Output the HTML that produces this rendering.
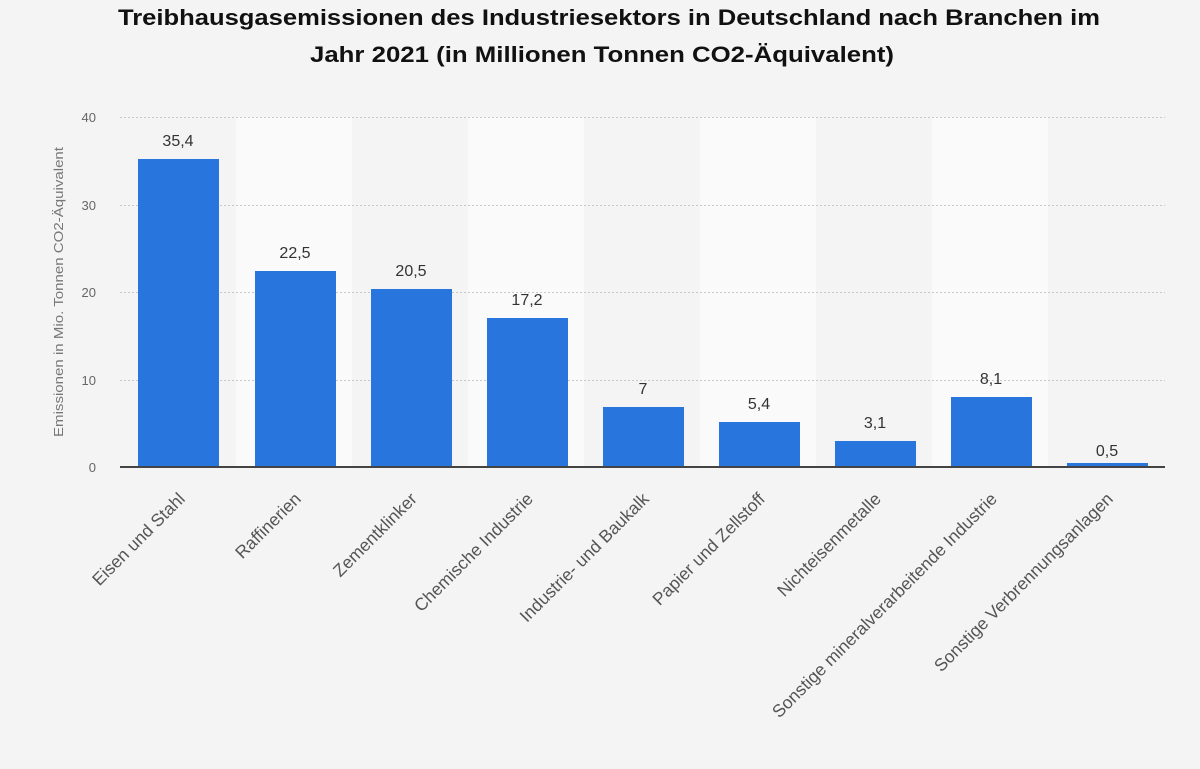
<!DOCTYPE html>
<html><head><meta charset="utf-8"><style>
body{margin:0;background:#f4f4f4;}
svg{display:block;font-family:"Liberation Sans",Arial,sans-serif;}
</style></head><body>
<svg width="1200" height="769" viewBox="0 0 1200 769">
<rect width="1200" height="769" fill="#f4f4f4"/>
<text x="118" y="25" font-size="22" font-weight="bold" fill="#111" textLength="982" lengthAdjust="spacingAndGlyphs">Treibhausgasemissionen des Industriesektors in Deutschland nach Branchen im</text>
<text x="310" y="62" font-size="22" font-weight="bold" fill="#111" textLength="584" lengthAdjust="spacingAndGlyphs">Jahr 2021 (in Millionen Tonnen CO2-Äquivalent)</text>
<g fill="#fafafa">
<rect x="236" y="117" width="116" height="350"/>
<rect x="468" y="117" width="116" height="350"/>
<rect x="700" y="117" width="116" height="350"/>
<rect x="932" y="117" width="116" height="350"/>
</g>
<g stroke="#c8c8c8" stroke-dasharray="2,2" stroke-width="1">
<line x1="120" y1="117.5" x2="1165" y2="117.5"/>
<line x1="120" y1="205.5" x2="1165" y2="205.5"/>
<line x1="120" y1="292.5" x2="1165" y2="292.5"/>
<line x1="120" y1="380.5" x2="1165" y2="380.5"/>
</g>
<g font-size="13" fill="#666" text-anchor="end">
<text x="96" y="122">40</text><text x="96" y="210">30</text><text x="96" y="297">20</text><text x="96" y="385">10</text><text x="96" y="472">0</text>
</g>
<text transform="translate(63,292) rotate(-90)" text-anchor="middle" font-size="13" fill="#777" textLength="290" lengthAdjust="spacingAndGlyphs">Emissionen in Mio. Tonnen CO2-Äquivalent</text>
<g fill="#2775dd">
<rect x="138" y="159" width="81" height="308"/>
<rect x="255" y="271" width="81" height="196"/>
<rect x="371" y="289" width="81" height="178"/>
<rect x="487" y="318" width="81" height="149"/>
<rect x="603" y="407" width="81" height="60"/>
<rect x="719" y="422" width="81" height="45"/>
<rect x="835" y="441" width="81" height="26"/>
<rect x="951" y="397" width="81" height="70"/>
<rect x="1067" y="463" width="81" height="4"/>
</g>
<line x1="120" y1="467" x2="1165" y2="467" stroke="#444" stroke-width="2"/>
<g font-size="16" fill="#333" text-anchor="middle">
<text x="178" y="146">35,4</text><text x="295" y="258">22,5</text><text x="411" y="276">20,5</text><text x="527" y="305">17,2</text><text x="643" y="394">7</text><text x="759" y="409">5,4</text><text x="875" y="428">3,1</text><text x="991" y="384">8,1</text><text x="1107" y="456">0,5</text>
</g>
<g font-size="17.5" fill="#555" text-anchor="end">
<text transform="translate(186,500) rotate(-45)">Eisen und Stahl</text>
<text transform="translate(302,500) rotate(-45)">Raffinerien</text>
<text transform="translate(418,500) rotate(-45)">Zementklinker</text>
<text transform="translate(534,500) rotate(-45)">Chemische Industrie</text>
<text transform="translate(650,500) rotate(-45)">Industrie- und Baukalk</text>
<text transform="translate(766,500) rotate(-45)">Papier und Zellstoff</text>
<text transform="translate(882,500) rotate(-45)">Nichteisenmetalle</text>
<text transform="translate(998,500) rotate(-45)">Sonstige mineralverarbeitende Industrie</text>
<text transform="translate(1114,500) rotate(-45)">Sonstige Verbrennungsanlagen</text>
</g>
</svg>
</body></html>
